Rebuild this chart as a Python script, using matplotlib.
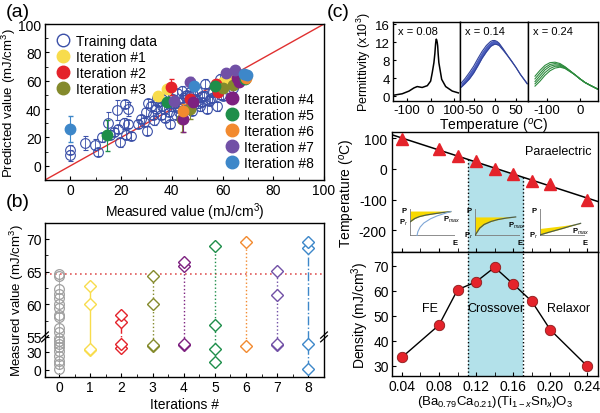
import numpy as np
import matplotlib
matplotlib.use('Agg')
import matplotlib.pyplot as plt
from matplotlib.lines import Line2D
from matplotlib.ticker import MultipleLocator, FixedLocator

plt.rcParams['font.family'] = 'Liberation Sans'
plt.rcParams['mathtext.fontset'] = 'custom'
plt.rcParams['mathtext.rm'] = 'Liberation Sans'
plt.rcParams['mathtext.it'] = 'Liberation Sans:italic'
plt.rcParams['axes.unicode_minus'] = False
plt.rcParams['xtick.direction'] = 'in'
plt.rcParams['ytick.direction'] = 'in'
plt.rcParams['axes.linewidth'] = 1.0

# ---------------- panel (a): predicted vs measured ----------------
train_x = [0, 0, 5.9, 9.8, 11, 12.4, 14.8, 15.5, 17.4, 18.2, 18.9, 19.6, 21, 22, 21.5, 22.6,
           22.6, 23.9, 26.5, 28, 29.1, 29.8, 30.4, 31.7, 30.5, 32.4, 33, 33.7, 34.4, 35.7,
           36.3, 37, 37.5, 38.3, 39, 39.6, 39.4, 40.6, 41.5, 42, 42.6, 43.9, 44.5, 45.2,
           45.9, 46.5, 47.2, 47.9, 48.5, 49.2, 49.8, 50.5, 51.2, 51.8, 52.5, 53.1, 53.8,
           54.5, 55.1, 55.8, 56.4, 57.7, 58.4, 59, 59.5, 60.3, 61.6, 62.9, 64.2, 65, 66.1,
           67.4, 34, 36, 41, 43, 48, 50, 52, 56, 58, 44, 46]
train_y = [11.5, 7.5, 16, 15, 9.6, 20, 30, 22, 23.7, 39.5, 26, 16.5, 30, 22, 43.6, 40,
           29.5, 21, 29.5, 33, 31, 38, 24.9, 42, 44, 36, 32, 40, 45, 36,
           47, 40, 34, 49.5, 38, 42, 29.6, 47, 36, 51, 41, 45, 48, 49.5,
           40, 44, 52, 45, 50, 47, 53, 44, 42, 49, 49.5, 57.9, 40,
           46, 47, 52, 52, 42, 56.8, 61.5, 50, 49.5, 57.8, 60, 55, 58, 60,
           63.6, 48, 42, 44, 38, 39, 46, 45, 48, 54, 53, 50]
train_err = [3, 4, 5, 4, 3, 3, 8, 3, 3, 7, 3, 3, 4, 3, 3, 5,
             3, 3, 3, 3, 3, 3, 3, 3, 3, 3, 3, 3, 3, 3,
             3, 3, 3, 3, 3, 3, 3, 3, 3, 3, 3, 3, 3, 3,
             3, 3, 3, 3, 3, 3, 3, 3, 3, 3, 3, 3, 3,
             3, 3, 3, 3, 3, 3, 3, 3, 3, 3, 3, 3, 3, 3,
             3, 3, 3, 3, 3, 3, 3, 3, 3, 3, 3, 3]

iter_labels = ['Iteration #1', 'Iteration #2', 'Iteration #3', 'Iteration #4',
               'Iteration #5', 'Iteration #6', 'Iteration #7', 'Iteration #8']
iter_colors = ['#F8DC4C', '#E4232B', '#848A2C', '#7D2180',
               '#1E8E4A', '#F28A2F', '#7150A6', '#3D87C9']
iter_meas = [[34.4, 38.2, 60.1, 63.0],
             [39.6, 47.0, 57.5, 58.4],
             [44.0, 47.2, 60.1, 64.3],
             [44.5, 48.5, 65.8, 66.4],
             [14.3, 38.0, 57.1, 68.9],
             [44.4, 69.3],
             [41.0, 47.2, 61.4, 64.9],
             [0.0, 48.6, 68.6, 69.5]]
iter_pred = [[49.5, 54.4, 59.0, 62.4],
             [55.4, 47.0, 57.7, 52.0],
             [33.0, 40.0, 54.7, 57.0],
             [33.0, 45.0, 62.0, 59.0],
             [21.4, 45.3, 56.1, 61.0],
             [38.5, 62.0],
             [46.0, 59.4, 65.5, 67.9],
             [26.0, 56.0, 65.0, 64.0]]
iter_err = [[2, 3, 2, 2],
            [5.5, 3, 2, 2],
            [9, 7, 2, 2],
            [9, 3, 2, 2],
            [11, 3, 2, 2],
            [5, 2],
            [3, 3, 2, 2],
            [9, 2, 2, 2]]

# ---------------- panel (b): measured value per iteration ----------------
iter0_vals = [64.7, 64.3, 62.3, 61.5, 61.0, 60.0, 59.5, 58.4, 58.1, 56.3, 55.8,
              54, 49, 43, 38, 32, 24, 15.5, 10, 1.7]
iter_vals_b = [[33, 35, 60.1, 62.8],
               [37, 43, 57.3, 58.4],
               [40, 42, 60.1, 64.3],
               [42, 44, 65.8, 66.4],
               [13, 35, 56.8, 68.9],
               [40, 69.5],
               [41, 43, 61.4, 65.1],
               [1, 43, 68.6, 69.5]]
iter_styles_b = ['-', '-.', ':', ':', ':', ':', ':', '-.']
best_train = 64.6

# ---------------- panel (c): BCT-Sn series ----------------
t_008 = [-156, -121, -92, -71, -57, -36, -14, 0, 7, 14, 18, 21, 22.5, 24, 26, 28, 30, 32, 35,
         47, 64, 92, 118]
eps_008 = [0.3, 0.6, 1.2, 1.9, 2.2, 2.0, 2.4, 3.4, 5.3, 7.5, 9.5, 11.6, 12.3, 12.7, 12.5,
           12.0, 11.2, 9.5, 7.5, 3.8, 2.2, 1.2, 0.8]
t_014 = [-80, -70, -60, -50, -40, -30, -20, -10, -5, 0, 5, 10, 20, 30, 40, 50, 60, 76]
eps_014_hi = [2.9, 4.0, 5.3, 6.7, 8.4, 10.0, 11.3, 12.2, 12.4, 12.4, 12.2, 11.8, 10.5,
              9.1, 7.8, 6.4, 4.9, 2.9]
eps_014_lo = [2.0, 2.9, 3.9, 5.2, 6.8, 8.5, 9.9, 11.1, 11.4, 11.6, 11.5, 11.3, 10.2,
              9.0, 7.7, 6.4, 4.9, 2.8]
t_024 = [-135, -120, -105, -90, -75, -60, -45, -30, -15, 0, 15, 30, 54]
eps_024 = [[4.5, 5.8, 6.9, 7.5, 7.6, 7.3, 6.6, 5.7, 4.8, 3.9, 3.1, 2.5, 1.6],
           [3.9, 5.2, 6.4, 7.1, 7.3, 7.1, 6.5, 5.7, 4.8, 3.9, 3.1, 2.5, 1.6],
           [3.3, 4.6, 5.9, 6.7, 7.0, 6.9, 6.4, 5.6, 4.8, 3.9, 3.1, 2.5, 1.6],
           [2.8, 4.0, 5.3, 6.2, 6.7, 6.7, 6.3, 5.6, 4.8, 3.9, 3.1, 2.5, 1.6],
           [2.3, 3.4, 4.7, 5.7, 6.3, 6.5, 6.2, 5.5, 4.8, 3.9, 3.1, 2.5, 1.6]]

sn_x = [0.04, 0.08, 0.10, 0.12, 0.14, 0.16, 0.18, 0.20, 0.24]
tm = [97, 63, 43, 24, 0, -16, -38, -49, -100]
density = [33.4, 46.3, 60.4, 63.6, 69.4, 62.7, 55.8, 44.4, 29.8]
crossover = [0.111, 0.171]

# P-E sketches (schematic): E, discharge P, upper P
pe_E = [0, 0.1, 0.2, 0.35, 0.5, 0.7, 0.9]
pe_fe = [0.52, 0.64, 0.71, 0.77, 0.81, 0.86, 0.9]
pe_fe_top = [0.92, 0.92, 0.92, 0.92, 0.92, 0.92, 0.92]
pe_fe_charge_E = [0.15, 0.17, 0.22, 0.3, 0.45, 0.6, 0.8, 0.9]
pe_fe_charge_P = [0.0, 0.15, 0.32, 0.47, 0.63, 0.74, 0.85, 0.9]
pe_co = [0.02, 0.28, 0.42, 0.53, 0.6, 0.66, 0.7]
pe_co_top = [0.7, 0.7, 0.7, 0.7, 0.7, 0.7, 0.7]
pe_re = [0.03, 0.08, 0.13, 0.2, 0.27, 0.37, 0.46]
pe_re_top = [0.27, 0.29, 0.31, 0.34, 0.37, 0.42, 0.46]

blue = '#3B50A8'
FS_LAB = 10
FS_TICK = 10

fig = plt.figure(figsize=(6.0, 4.14), dpi=100)

# ---------------- (a) ----------------
ax_a = fig.add_axes([0.075, 0.5628, 0.465, 0.3768])
ax_a.plot([-10, 100], [-10, 100], color='#E03030', lw=1.0, zorder=1)
ax_a.errorbar(train_x, train_y, yerr=train_err, fmt='o', ms=7, mfc='none', mec=blue,
              mew=0.8, ecolor=blue, elinewidth=0.6, capsize=1.8, zorder=2)
for mx, py, er, c in zip(iter_meas, iter_pred, iter_err, iter_colors):
    ax_a.errorbar(mx, py, yerr=er, fmt='o', ms=7.5, color=c, mec=c, ecolor=c,
                  elinewidth=0.8, capsize=1.8, zorder=3)
ax_a.set_xlim(-10, 100)
ax_a.set_ylim(-10, 100)
ax_a.set_xticks([0, 20, 40, 60, 80, 100])
ax_a.set_yticks([0, 20, 40, 60, 80, 100])
ax_a.xaxis.set_minor_locator(MultipleLocator(10))
ax_a.yaxis.set_minor_locator(MultipleLocator(10))
ax_a.tick_params(labelsize=FS_TICK, length=3, pad=2.5)
ax_a.tick_params(which='minor', length=2)
ax_a.set_xlabel('Measured value (mJ/cm$^3$)', fontsize=FS_LAB, labelpad=2)
ax_a.set_ylabel('Predicted value (mJ/cm$^3$)', fontsize=9.5, labelpad=0)

h_train = Line2D([], [], marker='o', ls='none', ms=9, mfc='none', mec=blue, mew=1)
h_it = [Line2D([], [], marker='o', ls='none', ms=9, color=c) for c in iter_colors]
leg1 = ax_a.legend([h_train] + h_it[:3], ['Training data'] + iter_labels[:3],
                   loc='upper left', frameon=False, fontsize=10, handletextpad=0.3,
                   labelspacing=0.15, borderaxespad=0.3, handlelength=1.2)
ax_a.add_artist(leg1)
ax_a.legend(h_it[3:], iter_labels[3:], loc='lower right', frameon=False, fontsize=10,
            handletextpad=0.3, labelspacing=0.15, borderaxespad=0.3, handlelength=1.2)
fig.text(0.03, 0.97, '(a)', fontsize=14, ha='center', va='center')

# ---------------- (b) ----------------
K = 0.092


def fwd(v):
    v = np.asarray(v, dtype=float)
    return np.where(v < 55, v * K, 55 * K + (v - 55))


def inv(u):
    u = np.asarray(u, dtype=float)
    return np.where(u < 55 * K, u / K, 55 + (u - 55 * K))


ax_b = fig.add_axes([0.075, 0.087, 0.465, 0.372])
ax_b.set_yscale('function', functions=(fwd, inv))
ax_b.axhline(best_train, color='#E05A5A', ls=(0, (1, 2)), lw=1.2, zorder=1)
ax_b.plot([0] * len(iter0_vals), iter0_vals, color='#B0B0B0', lw=0.8, zorder=2)
ax_b.plot([0] * len(iter0_vals), iter0_vals, 'o', ms=7, mfc='none', mec='#A0A0A0',
          mew=0.9, zorder=3)
for i, (vals, c, ls) in enumerate(zip(iter_vals_b, iter_colors, iter_styles_b), start=1):
    ax_b.plot([i] * len(vals), sorted(vals), color=c, ls=ls, lw=1.0, zorder=2)
    ax_b.plot([i] * len(vals), vals, 'D', ms=6, mfc='white', mec=c, mew=1.0, zorder=3)
ax_b.set_xlim(-0.45, 8.5)
ax_b.set_ylim(-11.7, 72.45)
ax_b.yaxis.set_major_locator(FixedLocator([0, 30, 55, 60, 65, 70]))
ax_b.yaxis.set_minor_locator(FixedLocator([57.5, 62.5, 67.5]))
ax_b.set_xticks(range(0, 9))
ax_b.xaxis.set_minor_locator(MultipleLocator(0.5))
ax_b.tick_params(labelsize=FS_TICK, length=3, pad=2.5)
ax_b.tick_params(which='minor', length=2)
ax_b.set_xlabel('Iterations #', fontsize=FS_LAB, labelpad=2)
ax_b.set_ylabel('Measured value (mJ/cm$^3$)', fontsize=9.5, labelpad=0)
fig.text(0.03, 0.512, '(b)', fontsize=14, ha='center', va='center')
# axis-break marks drawn in axes fraction (break sits at value 55)
yfrac = (fwd(55) - fwd(-11.7)) / (fwd(72.45) - fwd(-11.7))
for xa in (0.0, 1.0):
    for d in (-0.012, 0.012):
        ax_b.plot([xa - 0.012, xa + 0.012], [yfrac + d - 0.02, yfrac + d + 0.02],
                  transform=ax_b.transAxes, color='black', lw=0.9, clip_on=False)

# ---------------- (c) top: permittivity ----------------
ax_c1 = fig.add_axes([0.655, 0.7536, 0.1117, 0.1908])
ax_c2 = fig.add_axes([0.7667, 0.7536, 0.1133, 0.1908])
ax_c3 = fig.add_axes([0.88, 0.7536, 0.1167, 0.1908])
ax_c1.plot(t_008, eps_008, color='black', lw=1.1)
ax_c2.fill_between(t_014, eps_014_lo, eps_014_hi, color='#4A5DBE', lw=0)
ax_c2.plot(t_014, eps_014_hi, color='#33449A', lw=0.8)
ax_c2.plot(t_014, eps_014_lo, color='#33449A', lw=0.8)
for e in eps_024:
    ax_c3.plot(t_024, e, color='#2E8B3E', lw=0.8)
ax_c1.set_xlim(-160, 125)
ax_c2.set_xlim(-82, 78)
ax_c3.set_xlim(-156, 54)
ax_c1.set_xticks([-100, 0, 100])
ax_c2.set_xticks([-50, 0, 50])
ax_c3.set_xticks([-100, 0])
for ax, lab in zip((ax_c1, ax_c2, ax_c3), ('x = 0.08', 'x = 0.14', 'x = 0.24')):
    ax.set_ylim(-1, 16.5)
    ax.set_yticks([0, 4, 8, 12, 16])
    ax.tick_params(labelsize=9.5, length=2.5, pad=2)
    ax.text(0.07, 0.88, lab, transform=ax.transAxes, fontsize=8, va='center')
ax_c2.tick_params(labelleft=False, left=False)
ax_c3.tick_params(labelleft=False, left=False)
ax_c1.set_ylabel('Permittivity (x10$^3$)', fontsize=9, labelpad=2)
ax_c2.set_xlabel('Temperature ($^o$C)', fontsize=FS_LAB, labelpad=0)
fig.text(0.563, 0.97, '(c)', fontsize=14, ha='center', va='center')

# ---------------- (c) middle: transition temperature ----------------
ax_m = fig.add_axes([0.6528, 0.3889, 0.344, 0.29])
ax_b2 = fig.add_axes([0.6528, 0.0886, 0.344, 0.3002], sharex=ax_m)
slope, icpt = np.polyfit(sn_x, tm, 1)
xlim_c = (0.029, 0.2515)
ylim_m = (-270, 120)
ax_m.plot(xlim_c, [slope * xlim_c[0] + icpt, slope * xlim_c[1] + icpt], color='black',
          lw=1.1, zorder=3)
xs = np.array(crossover)
ax_m.fill_between(xs, slope * xs + icpt, ylim_m[0], color='#B3E1EA', lw=0, zorder=1)
for xc in crossover:
    ax_m.plot([xc, xc], [slope * xc + icpt, ylim_m[0]], color='black', ls=':', lw=1.0,
              zorder=2)
ax_m.plot(sn_x, tm, '^', ms=8.5, color='#E4232B', mec='#E4232B', zorder=4)
ax_m.set_xlim(*xlim_c)
ax_m.set_ylim(*ylim_m)
ax_m.set_yticks([-200, -100, 0, 100])
ax_m.xaxis.set_minor_locator(MultipleLocator(0.02))
ax_m.tick_params(labelbottom=False, labelsize=FS_TICK, length=3)
ax_m.tick_params(which='minor', length=3)
ax_m.set_ylabel('Temperature ($^o$C)', fontsize=FS_LAB, labelpad=1)
ax_m.text(0.2085, 59, 'Paraelectric', fontsize=9, ha='center', va='center')

# P-E insets
inset_x = [0.049, 0.119, 0.189]
for k, x0 in enumerate(inset_x):
    ins = ax_m.inset_axes([x0, -217, 0.0485, 87], transform=ax_m.transData)
    ins.set_xlim(0, 1)
    ins.set_ylim(0, 1)
    ins.axis('off')
    ins.plot([0, 0], [0, 1], color='#7A7A7A', lw=1.2)
    ins.plot([0, 1], [0, 0], color='#7A7A7A', lw=1.2)
    if k == 0:
        ins.fill_between(pe_E, pe_fe, pe_fe_top, color='#F7D900', lw=0)
        ins.plot(pe_E, pe_fe, color='#4E5E48', lw=0.9)
        ins.plot(pe_fe_charge_E, pe_fe_charge_P, color='#7FA6D6', lw=0.8)
        pr, pm = pe_fe[0], pe_fe[-1]
    elif k == 1:
        ins.fill_between(pe_E, pe_co, pe_co_top, color='#F7D900', lw=0)
        ins.plot(pe_E, pe_co, color='#4E5E48', lw=0.9)
        pr, pm = pe_co[0], pe_co[-1]
    else:
        ins.fill_between(pe_E, pe_re, pe_re_top, color='#F7D900', lw=0)
        ins.plot(pe_E, pe_re, color='#4E5E48', lw=0.9)
        pr, pm = pe_re[0], pe_re[-1]
    ins.text(-0.08, 0.95, 'P', fontsize=5.5, fontweight='bold', ha='right', va='center')
    ins.text(-0.04, pr, 'P$_r$', fontsize=5.5, fontweight='bold', ha='right', va='center')
    ins.text(1.0, -0.12, 'E', fontsize=5.5, fontweight='bold', ha='center', va='top')
    ins.text(0.72, pm - 0.1, 'P$_{max}$', fontsize=5.5, fontweight='bold', va='top')

# ---------------- (c) bottom: energy density ----------------
ax_b2.axvspan(crossover[0], crossover[1], color='#B3E1EA', lw=0, zorder=1)
for xc in crossover:
    ax_b2.axvline(xc, color='black', ls=':', lw=1.0, zorder=2)
ax_b2.plot(sn_x, density, '-', color='black', lw=1.0, zorder=3)
ax_b2.plot(sn_x, density, 'o', ms=7.5, color='#E4232B', mec='#8B1A1A', mew=0.6, zorder=4)
ax_b2.set_ylim(25.8, 75.5)
ax_b2.set_yticks([30, 40, 50, 60, 70])
ax_b2.set_xticks([0.04, 0.08, 0.12, 0.16, 0.20, 0.24])
ax_b2.set_xticklabels(['0.04', '0.08', '0.12', '0.16', '0.20', '0.24'])
ax_b2.tick_params(labelsize=FS_TICK, length=3, pad=2)
ax_b2.tick_params(which='minor', length=3)
ax_b2.set_ylabel('Density (mJ/cm$^3$)', fontsize=FS_LAB, labelpad=2)
ax_b2.set_xlabel('(Ba$_{0.79}$Ca$_{0.21}$)(Ti$_{1-x}$Sn$_x$)O$_3$', fontsize=9.5,
                 labelpad=0)
ax_b2.text(0.0705, 53.3, 'FE', fontsize=9, ha='center', va='center')
ax_b2.text(0.141, 53.3, 'Crossover', fontsize=9, ha='center', va='center')
ax_b2.text(0.2195, 53.0, 'Relaxor', fontsize=9, ha='center', va='center')

fig.savefig('out.png', dpi=100)
